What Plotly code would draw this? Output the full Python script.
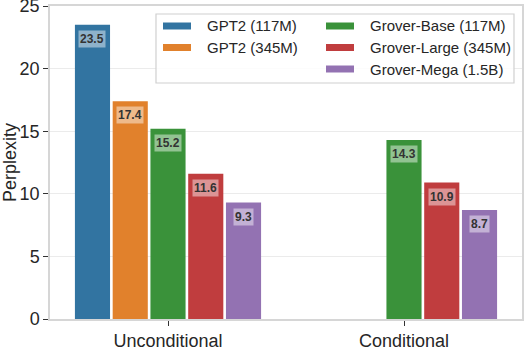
import plotly.graph_objects as go

conditions = ['Unconditional', 'Conditional']
models = ['GPT2 (117M)', 'GPT2 (345M)', 'Grover-Base (117M)', 'Grover-Large (345M)', 'Grover-Mega (1.5B)']
perplexity = {
    'GPT2 (117M)': [23.5, None],
    'GPT2 (345M)': [17.4, None],
    'Grover-Base (117M)': [15.2, 14.3],
    'Grover-Large (345M)': [11.6, 10.9],
    'Grover-Mega (1.5B)': [9.3, 8.7],
}
colors = ['#3274a1', '#e1812c', '#3a923a', '#c03d3e', '#9372b2']
y_ticks = [0, 5, 10, 15, 20, 25]

W, H = 524, 348
ML, MR, MT, MB = 50, 2, 6, 29
pw, ph = W - ML - MR, H - MT - MB


def px(x):  # pixel -> paper
    return (x - ML) / pw


def py(y):
    return 1 - (y - MT) / ph


slot = 0.8 / len(models)
fig = go.Figure()
annotations = []
for i, m in enumerate(models):
    xs = [g + (i - 2) * slot for g in range(len(conditions))]
    ys = perplexity[m]
    fig.add_trace(go.Bar(x=xs, y=ys, width=slot * 0.93, name=m,
                         marker=dict(color=colors[i], line=dict(width=0)),
                         showlegend=False))
    for x, y in zip(xs, ys):
        if y is None:
            continue
        annotations.append(dict(x=x, y=y, text='<b>%.1f</b>' % y, showarrow=False,
                                yanchor='top', yshift=-5,
                                bgcolor='rgba(255,255,255,0.45)', borderpad=1,
                                font=dict(size=12, color='#333333')))

# legend in two columns (matplotlib style, ncol=2)
shapes = [dict(type='rect', xref='paper', yref='paper', x0=px(156), x1=px(514),
               y0=py(83), y1=py(14), fillcolor='rgba(255,255,255,0.85)',
               line=dict(color='#d0d0d0', width=1.2), layer='above')]
col_x = [163, 163, 326, 326, 326]
row_y = [26, 47.5, 26, 47.5, 69]
for i, m in enumerate(models):
    sx, sy = col_x[i], row_y[i]
    shapes.append(dict(type='rect', xref='paper', yref='paper', x0=px(sx), x1=px(sx + 28),
                       y0=py(sy + 3.5), y1=py(sy - 3.5), fillcolor=colors[i],
                       line=dict(width=0), layer='above'))
    annotations.append(dict(xref='paper', yref='paper', x=px(sx + 42), y=py(sy), text=m,
                            showarrow=False, xanchor='left', yanchor='middle',
                            font=dict(size=15, color='#262626')))

fig.update_layout(
    width=W, height=H,
    margin=dict(l=ML, r=MR, t=MT, b=MB),
    plot_bgcolor='white', paper_bgcolor='white',
    font=dict(family='Liberation Sans, Arial, sans-serif', color='#262626'),
    barmode='overlay',
    annotations=annotations,
    shapes=shapes,
    showlegend=False,
)
fig.update_xaxes(range=[-0.5, 1.5], tickvals=[0, 1], ticktext=conditions,
                 showgrid=False, zeroline=False, showline=True, linecolor='#d6d6d6',
                 linewidth=1.5, mirror=True, ticks='outside', ticklen=5,
                 tickcolor='#333333', tickfont=dict(size=18), automargin=False,
                 ticklabeloverflow='allow')
fig.update_yaxes(range=[0, 25], tickvals=y_ticks,
                 title=dict(text='Perplexity', font=dict(size=18), standoff=0),
                 showgrid=True, gridcolor='#ebebeb', zeroline=False, showline=True,
                 linecolor='#d6d6d6', linewidth=1.5, mirror=True, ticks='outside',
                 ticklen=5, tickcolor='#333333', tickfont=dict(size=18), automargin=False,
                 ticklabeloverflow='allow')

fig.write_html('out.html', post_script="document.body.style.margin='0';",
               config={'displayModeBar': False})
